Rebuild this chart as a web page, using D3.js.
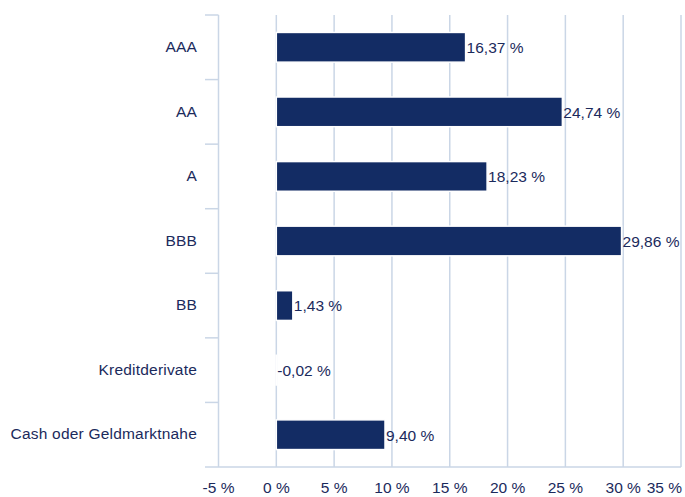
<!DOCTYPE html>
<html>
<head>
<meta charset="utf-8">
<script src="https://cdn.jsdelivr.net/npm/d3@7"></script>
<style>
  body { margin: 0; background: #fff; }
  text { font-family: "Liberation Sans", Arial, sans-serif; fill: #1b2a5c; }
</style>
</head>
<body>
<div class="chart"></div>
<script>
// data
let categories = ['AAA', 'AA', 'A', 'BBB', 'BB', 'Kreditderivate', 'Cash oder Geldmarktnahe']
let values = [16.37, 24.74, 18.23, 29.86, 1.43, -0.02, 9.40]
let xTicks = [-5, 0, 5, 10, 15, 20, 25, 30, 35]

let svgWidth = 685
let svgHeight = 497

let plot = {
    left: 218.5,
    right: 681,
    top: 15,
    bottom: 467
}

let svg = d3.select('.chart')
    .append('svg')
    .attr('width', svgWidth)
    .attr('height', svgHeight)

// german number format
let de = d3.formatLocale({decimal: ',', thousands: '.', grouping: [3], currency: ['', ' €'], minus: '-'})
let fmtVal = d => de.format('.2f')(d) + ' %'
let fmtTick = d => de.format('d')(d) + ' %'

let xScale = d3.scaleLinear()
    .domain([-5, 35])
    .range([plot.left, plot.right])

let yScale = d3.scaleBand()
    .domain(categories)
    .range([plot.top, plot.bottom])
    .paddingInner(0.54)
    .paddingOuter(0.27)

let gridColor = '#cad6e6'
let fontSize = 15.5

// gridlines
svg.append('g')
    .selectAll('line')
    .data(xTicks)
    .join('line')
    .attr('x1', d => xScale(d))
    .attr('x2', d => xScale(d))
    .attr('y1', plot.top)
    .attr('y2', plot.bottom)
    .attr('stroke', gridColor)
    .attr('stroke-width', 1.5)

// category separators on the y axis
let step = (plot.bottom - plot.top) / categories.length
let seps = d3.range(categories.length).map(i => plot.top + i * step)
svg.append('g')
    .selectAll('line')
    .data(seps)
    .join('line')
    .attr('x1', 205)
    .attr('x2', plot.left)
    .attr('y1', d => d)
    .attr('y2', d => d)
    .attr('stroke', gridColor)
    .attr('stroke-width', 1.5)

// x axis line
svg.append('line')
    .attr('x1', 205).attr('x2', plot.right)
    .attr('y1', plot.bottom).attr('y2', plot.bottom)
    .attr('stroke', gridColor)
    .attr('stroke-width', 1.5)

// bars
svg.append('g')
    .selectAll('rect')
    .data(categories)
    .join('rect')
    .attr('x', (d, i) => xScale(Math.min(0, values[i])))
    .attr('y', d => yScale(d))
    .attr('width', (d, i) => Math.abs(xScale(values[i]) - xScale(0)))
    .attr('height', yScale.bandwidth())
    .attr('fill', '#132c64')
    .attr('stroke', '#fff')
    .attr('stroke-width', 1.5)

// value labels
svg.append('g')
    .selectAll('text')
    .data(categories)
    .join('text')
    .attr('x', (d, i) => xScale(Math.max(0, values[i])) + 1)
    .attr('y', d => yScale(d) + yScale.bandwidth() / 2)
    .attr('dy', '0.38em')
    .attr('font-size', fontSize)
    .text((d, i) => fmtVal(values[i]))

// category labels
svg.append('g')
    .selectAll('text')
    .data(categories)
    .join('text')
    .attr('x', 197)
    .attr('y', d => yScale(d) + yScale.bandwidth() / 2)
    .attr('dy', '0.3em')
    .attr('text-anchor', 'end')
    .attr('font-size', fontSize)
    .attr('letter-spacing', 0.2)
    .text(d => d)

// x tick labels
svg.append('g')
    .selectAll('text')
    .data(xTicks)
    .join('text')
    .attr('x', (d, i) => i == xTicks.length - 1 ? xScale(d) + 1 : xScale(d))
    .attr('y', 493)
    .attr('text-anchor', (d, i) => i == xTicks.length - 1 ? 'end' : 'middle')
    .attr('font-size', fontSize)
    .text(d => fmtTick(d))
</script>
</body>
</html>
